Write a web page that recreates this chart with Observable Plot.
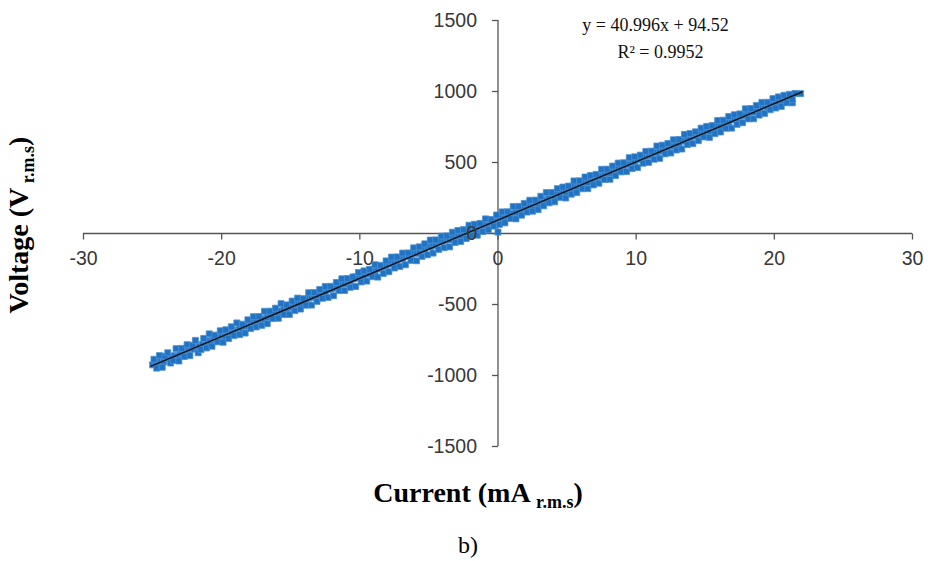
<!DOCTYPE html>
<html>
<head>
<meta charset="utf-8">
<script src="https://cdn.jsdelivr.net/npm/d3@7"></script>
<script src="https://cdn.jsdelivr.net/npm/@observablehq/plot@0.6"></script>
<style>
  html, body { margin: 0; padding: 0; background: #fff; }
  #chart svg { display: block; }
</style>
</head>
<body>
<div id="chart"></div>
<script>
// Current (mA r.m.s) - first sweep
const currentSweepA = [
  -25.0,-24.8,-24.6,-24.4,-24.2,-24.0,-23.8,-23.6,-23.4,-23.2,-23.0,-22.8,-22.6,-22.4,-22.2,-22.0,-21.8,-21.6,-21.4,-21.2,
  -21.0,-20.8,-20.6,-20.4,-20.2,-20.0,-19.8,-19.7,-19.5,-19.3,-19.1,-18.9,-18.7,-18.5,-18.3,-18.1,-17.9,-17.7,-17.5,-17.3,
  -17.1,-16.9,-16.7,-16.5,-16.3,-16.1,-15.9,-15.7,-15.5,-15.3,-15.1,-14.9,-14.7,-14.5,-14.3,-14.1,-13.9,-13.7,-13.5,-13.3,
  -13.1,-12.9,-12.7,-12.5,-12.3,-12.1,-11.9,-11.7,-11.5,-11.3,-11.1,-10.9,-10.7,-10.5,-10.3,-10.1,-9.9,-9.7,-9.5,-9.3,
  -9.1,-8.9,-8.7,-8.5,-8.3,-8.1,-7.9,-7.7,-7.5,-7.3,-7.1,-6.9,-6.7,-6.5,-6.3,-6.1,-5.9,-5.7,-5.5,-5.3,
  -5.1,-4.9,-4.7,-4.5,-4.3,-4.1,-3.9,-3.7,-3.5,-3.3,-3.1,-2.9,-2.7,-2.5,-2.3,-2.1,-1.9,-1.7,-1.5,-1.3,
  -1.1,-0.9,-0.7,-0.5,-0.3,-0.1,0.0,0.1,0.3,0.5,0.7,0.9,1.1,1.3,1.5,1.7,1.9,2.1,2.3,2.5,
  2.7,2.9,3.1,3.3,3.5,3.7,3.9,4.1,4.3,4.5,4.7,4.9,5.1,5.3,5.5,5.7,5.9,6.1,6.3,6.5,
  6.7,6.9,7.1,7.3,7.5,7.7,7.9,8.1,8.3,8.5,8.7,8.9,9.1,9.3,9.5,9.7,9.9,10.1,10.3,10.5,
  10.7,10.9,11.1,11.3,11.5,11.7,11.9,12.1,12.3,12.5,12.7,12.9,13.1,13.3,13.5,13.7,13.9,14.1,14.3,14.5,
  14.7,14.9,15.1,15.3,15.5,15.7,15.9,16.1,16.3,16.5,16.7,16.9,17.1,17.3,17.5,17.7,17.9,18.1,18.3,18.5,
  18.7,18.9,19.1,19.3,19.5,19.7,19.9,20.1,20.3,20.5,20.7,20.9,21.1,21.3,21.9
];
// Voltage (V r.m.s) - first sweep
const voltageSweepA = [
  -925,-900,-915,-890,-905,-880,-885,-870,-860,-865,-840,-850,-825,-835,-810,-815,-800,-795,-780,-790,
  -755,-770,-740,-745,-735,-720,-710,-730,-700,-705,-680,-690,-665,-670,-655,-650,-640,-630,-615,-620,
  -600,-605,-590,-575,-580,-555,-560,-545,-530,-540,-505,-520,-500,-490,-495,-470,-480,-455,-450,-445,
  -425,-435,-405,-420,-395,-390,-385,-370,-365,-345,-355,-330,-335,-320,-305,-315,-290,-300,-270,-285,
  -255,-270,-250,-240,-235,-225,-215,-200,-215,-190,-180,-175,-160,-155,-150,-130,-140,-120,-100,-115,
  -90,-95,-70,-85,-60,-55,-50,-30,-45,-20,-25,-5,-15,5,-10,20,15,30,25,45,
  40,60,55,75,70,85,10,90,110,105,125,115,140,150,145,160,180,170,195,190,
  215,205,225,240,230,255,265,250,280,275,300,290,315,310,335,320,345,350,370,360,
  385,370,395,410,400,420,435,425,450,440,465,480,470,495,485,510,500,520,535,525,
  545,560,550,575,570,590,580,605,600,620,615,640,625,655,650,675,660,690,685,700,
  710,700,730,720,745,740,760,755,775,790,780,800,810,800,825,835,830,850,865,855,
  880,870,895,905,890,915,925,910,930,940,925,950,945,920,985
];
// Current (mA r.m.s) - second sweep
const currentSweepB = [
  -24.9,-24.7,-24.5,-24.3,-24.1,-23.9,-23.7,-23.5,-23.3,-23.1,-22.9,-22.7,-22.5,-22.3,-22.1,-21.9,-21.7,-21.5,-21.3,-21.1,
  -20.9,-20.7,-20.5,-20.3,-20.1,-19.9,-19.7,-19.5,-19.3,-19.1,-18.9,-18.7,-18.5,-18.3,-18.1,-17.9,-17.7,-17.5,-17.3,-17.1,
  -16.9,-16.7,-16.5,-16.3,-16.1,-15.9,-15.7,-15.5,-15.3,-15.1,-14.9,-14.7,-14.5,-14.3,-14.1,-13.9,-13.7,-13.5,-13.3,-13.1,
  -12.9,-12.7,-12.5,-12.3,-12.1,-11.9,-11.7,-11.5,-11.3,-11.1,-10.9,-10.7,-10.5,-10.3,-10.1,-9.9,-9.7,-9.5,-9.3,-9.1,
  -8.9,-8.7,-8.5,-8.3,-8.1,-7.9,-7.7,-7.5,-7.3,-7.1,-6.9,-6.7,-6.5,-6.3,-6.1,-5.9,-5.7,-5.5,-5.3,-5.1,
  -4.9,-4.7,-4.5,-4.3,-4.1,-3.9,-3.7,-3.5,-3.3,-3.1,-2.9,-2.7,-2.5,-2.3,-2.1,-1.9,-1.7,-1.5,-1.3,-1.1,
  -0.9,-0.7,-0.5,-0.3,-0.1,0.1,0.3,0.5,0.7,0.9,1.1,1.3,1.5,1.7,1.9,2.1,2.3,2.5,2.7,2.9,
  3.1,3.3,3.5,3.7,3.9,4.1,4.3,4.5,4.7,4.9,5.1,5.3,5.5,5.7,5.9,6.1,6.3,6.5,6.7,6.9,
  7.1,7.3,7.5,7.7,7.9,8.1,8.3,8.5,8.7,8.9,9.1,9.3,9.5,9.7,9.9,10.1,10.3,10.5,10.7,10.9,
  11.1,11.3,11.5,11.7,11.9,12.1,12.3,12.5,12.7,12.9,13.1,13.3,13.5,13.7,13.9,14.1,14.3,14.5,14.7,14.9,
  15.1,15.3,15.5,15.7,15.9,16.1,16.3,16.5,16.7,16.9,17.1,17.3,17.5,17.7,17.9,18.1,18.3,18.5,18.7,18.9,
  19.1,19.3,19.5,19.7,19.9,20.1,20.3,20.5,20.7,20.9,21.1,21.3,21.5
];
// Voltage (V r.m.s) - second sweep
const voltageSweepB = [
  -886,-948,-860,-942,-864,-840,-912,-894,-811,-898,-809,-866,-783,-860,-787,-753,-840,-817,-739,-806,
  -707,-794,-716,-763,-685,-766,-678,-740,-657,-719,-630,-712,-639,-701,-608,-669,-586,-658,-585,-647,
  -548,-635,-547,-599,-526,-597,-494,-571,-503,-570,-476,-543,-455,-532,-459,-505,-417,-504,-416,-478,
  -394,-456,-373,-450,-372,-438,-345,-402,-319,-401,-317,-379,-306,-373,-275,-341,-263,-335,-252,-304,
  -220,-307,-224,-281,-193,-269,-166,-243,-165,-232,-138,-220,-137,-189,-101,-192,-94,-161,-73,-150,
  -46,-138,-45,-112,-19,-100,-17,-94,9,-63,21,-56,27,-35,58,-13,65,-12,71,14,
  103,26,99,52,130,64,152,75,153,106,190,103,191,129,212,151,234,157,235,168,
  262,195,288,216,289,223,316,254,327,250,334,277,370,288,371,315,398,316,409,342,
  416,354,452,380,453,382,475,408,496,434,498,436,534,457,540,464,552,495,578,501,
  580,523,616,529,622,561,634,567,660,588,662,595,698,626,704,633,716,654,742,680,
  754,677,760,703,796,715,798,741,824,742,836,769,842,780,878,807,880,808,901,834,
  923,846,924,872,950,884,962,895,973,921,980,943,986
];
// Linear trendline shown on the chart
const trendSlope = [40.996];
const trendIntercept = [94.52];
const trendRange = [-25.1, 22.0];
// Axis ticks
const xTickValues = [-30, -20, -10, 0, 10, 20, 30];
const yTickValues = [-1500, -1000, -500, 0, 500, 1000, 1500];

const currentValues = currentSweepA.concat(currentSweepB);
const voltageValues = voltageSweepA.concat(voltageSweepB);
const points = currentValues.map((c, i) => ({current: c, voltage: voltageValues[i]}));
const trend = trendRange.map(x => ({current: x, voltage: trendSlope[0] * x + trendIntercept[0]}));

const tickDown = {draw(ctx) { ctx.moveTo(0, 0); ctx.lineTo(0, 6); }};
const tickLeft = {draw(ctx) { ctx.moveTo(0, 0); ctx.lineTo(-6, 0); }};
const axisColor = "#555555";
const labelColor = "#383838";

const plot = Plot.plot({
  width: 928,
  height: 561,
  marginLeft: 83,
  marginRight: 16,
  marginTop: 20,
  marginBottom: 115,
  style: {fontFamily: "'Liberation Sans', Arial, sans-serif", fontSize: "19px", background: "#fff"},
  x: {domain: [-30, 30], axis: null},
  y: {domain: [-1500, 1500], axis: null},
  marks: [
    Plot.ruleY([0], {stroke: axisColor, strokeWidth: 1.3}),
    Plot.ruleX([0], {stroke: axisColor, strokeWidth: 1.3}),
    Plot.dot(xTickValues, {x: d => d, y: 0, r: 3, symbol: tickDown, stroke: axisColor, fill: "none", strokeWidth: 1.3}),
    Plot.dot(yTickValues, {x: 0, y: d => d, r: 3, symbol: tickLeft, stroke: axisColor, fill: "none", strokeWidth: 1.3}),
    Plot.text(xTickValues, {x: d => d, y: 0, text: d => String(d), dy: 25, fill: labelColor, fontSize: 19.5}),
    Plot.dot(points, {x: "current", y: "voltage", symbol: "square", r: 3.4, fill: "#2172c2", stroke: "#4a90d2", strokeWidth: 0.8}),
    Plot.line(trend, {x: "current", y: "voltage", stroke: "#111", strokeWidth: 1.4}),
    Plot.text(yTickValues, {x: 0, y: d => d, text: d => String(d), dx: -21, textAnchor: "end", fill: labelColor, fontSize: 19.5}),
    Plot.text(["y = 40.996x + 94.52"], {frameAnchor: "top-left", dx: 572, dy: -2, textAnchor: "middle", fontFamily: "'Liberation Serif', 'Times New Roman', serif", fontSize: 18, fill: "#111"}),
    Plot.text(["R\u00B2 = 0.9952"], {frameAnchor: "top-left", dx: 577, dy: 25, textAnchor: "middle", fontFamily: "'Liberation Serif', 'Times New Roman', serif", fontSize: 18, fill: "#111"})
  ]
});
document.getElementById("chart").appendChild(plot);

const svg = d3.select(plot);
const serif = "'Liberation Serif', 'Times New Roman', serif";
// x axis title
const xt = svg.append("text")
  .attr("x", 478).attr("y", 502)
  .attr("text-anchor", "middle")
  .attr("font-family", serif).attr("font-weight", "bold").attr("font-size", 28).attr("fill", "#000");
xt.append("tspan").text("Current (mA ");
xt.append("tspan").attr("dy", 6).attr("font-size", 18).text("r.m.s");
xt.append("tspan").attr("dy", -6).text(")");
// y axis title
const yt = svg.append("text")
  .attr("transform", "translate(28,225) rotate(-90)")
  .attr("text-anchor", "middle")
  .attr("font-family", serif).attr("font-weight", "bold").attr("font-size", 28).attr("fill", "#000");
yt.append("tspan").text("Voltage (V");
yt.append("tspan").attr("dy", 6).attr("font-size", 18).text(" r.m.s");
yt.append("tspan").attr("dy", -6).text(")");
// panel label
svg.append("text")
  .attr("x", 468).attr("y", 553)
  .attr("text-anchor", "middle")
  .attr("font-family", serif).attr("font-size", 24).attr("fill", "#000")
  .text("b)");
</script>
</body>
</html>
